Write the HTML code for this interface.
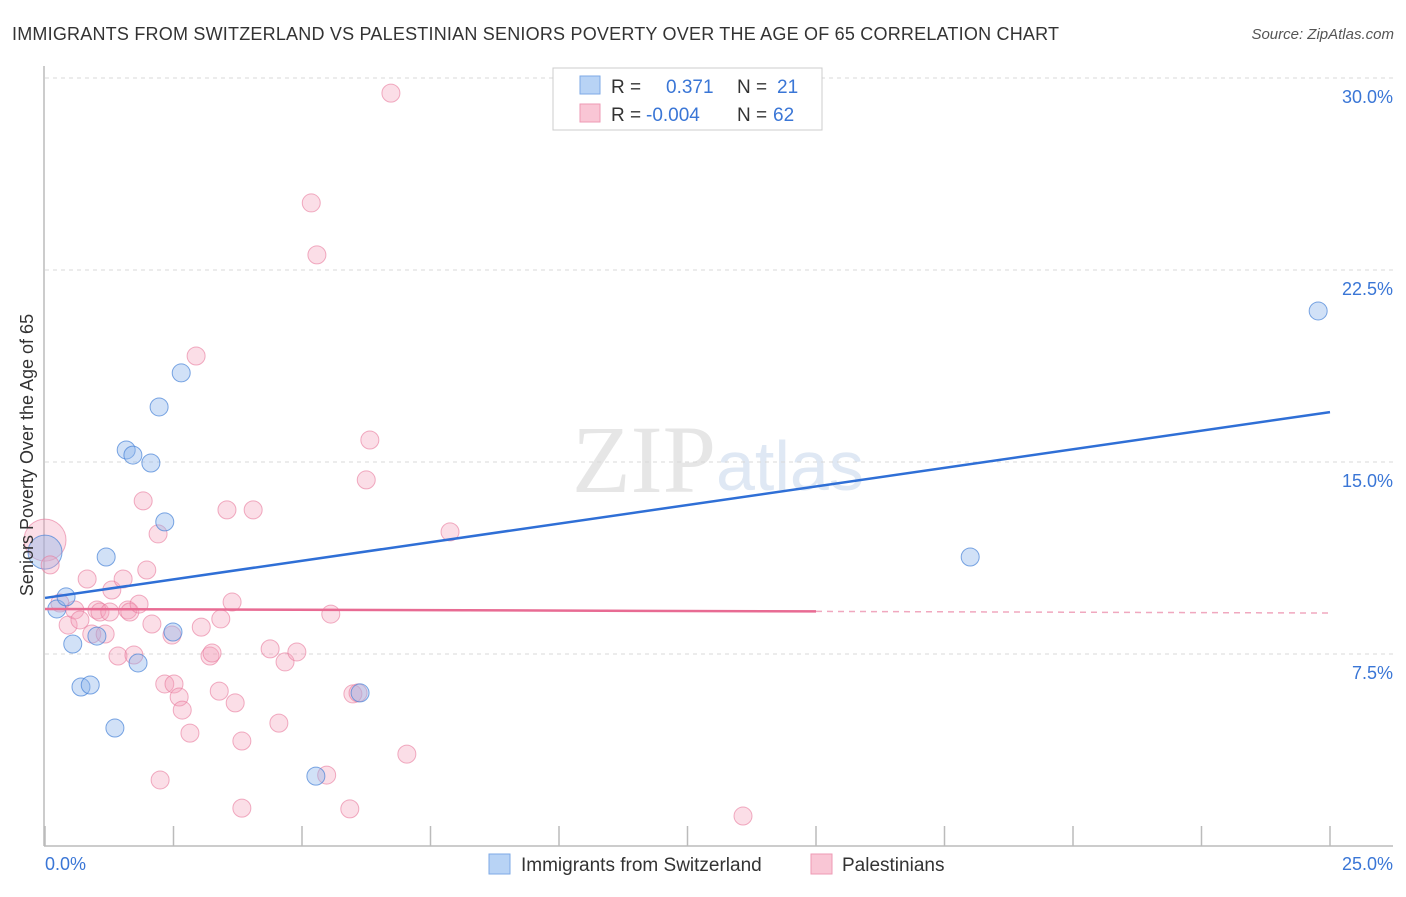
<!DOCTYPE html>
<html><head><meta charset="utf-8"><style>
body{margin:0;background:#fff;font-family:"Liberation Sans",sans-serif;}
</style></head><body>
<svg width="1406" height="892" xmlns="http://www.w3.org/2000/svg">
<text x="12" y="40" font-size="18" fill="#333" textLength="1047">IMMIGRANTS FROM SWITZERLAND VS PALESTINIAN SENIORS POVERTY OVER THE AGE OF 65 CORRELATION CHART</text>
<text x="1394" y="39" font-size="15" fill="#555" font-style="italic" text-anchor="end">Source: ZipAtlas.com</text>
<text x="716" y="492" font-size="96" fill="#e6e6e6" text-anchor="end" font-family="Liberation Serif">ZIP</text>
<text x="716" y="490" font-size="70" fill="#dfe8f4">atlas</text>
<g id="grid"></g>
<g id="axes"></g>
<g id="pts"></g>
<g id="trend"></g>
<text x="33" y="455" font-size="18" fill="#333" text-anchor="middle" transform="rotate(-90 33 455)">Seniors Poverty Over the Age of 65</text>
<g>
<rect x="553" y="68" width="269" height="62" fill="#fff" stroke="#ccc"/>
<rect x="580" y="76" width="20" height="18" fill="#b8d3f5" stroke="#7ea9e6"/>
<rect x="580" y="104" width="20" height="18" fill="#f9c6d5" stroke="#ee9ab4"/>
<text x="611" y="93" font-size="19" fill="#333">R = <tspan x="666" fill="#3a76d6">0.371</tspan><tspan x="737" fill="#333">N = </tspan><tspan x="777" fill="#3a76d6">21</tspan></text>
<text x="611" y="121" font-size="19" fill="#333">R = <tspan x="646" fill="#3a76d6">-0.004</tspan><tspan x="737" fill="#333">N = </tspan><tspan x="773" fill="#3a76d6">62</tspan></text>
</g>
<g>
<rect x="489" y="854" width="21" height="20" fill="#b8d3f5" stroke="#7ea9e6"/>
<text x="521" y="871" font-size="19" fill="#333">Immigrants from Switzerland</text>
<rect x="811" y="854" width="21" height="20" fill="#f9c6d5" stroke="#ee9ab4"/>
<text x="842" y="871" font-size="19" fill="#333">Palestinians</text>
</g>
</svg>
<script>
const yTicks=[7.5,15,22.5,30];
const yTickLabels=["7.5%","15.0%","22.5%","30.0%"];
const xLabels=["0.0%","25.0%"];
const blueX=[0.23,0.41,0.54,0.70,0.88,1.01,1.19,1.36,1.58,1.71,1.81,2.06,2.22,2.33,2.49,2.65,5.27,6.13,18.00,24.77];
const blueY=[9.26,9.73,7.89,6.21,6.29,8.20,11.29,4.61,15.47,15.27,7.15,14.96,17.15,12.66,8.36,18.48,2.73,5.98,11.29,20.90];
const pinkX=[0.10,0.29,0.45,0.58,0.68,0.82,0.91,1.01,1.07,1.17,1.26,1.30,1.42,1.52,1.61,1.65,1.73,1.83,1.91,1.98,2.08,2.20,2.24,2.33,2.47,2.51,2.61,2.67,2.82,2.94,3.04,3.21,3.25,3.39,3.42,3.54,3.64,3.70,3.83,3.83,4.05,4.38,4.55,4.67,4.90,5.18,5.29,5.48,5.56,5.93,5.99,6.09,6.25,6.32,6.73,7.04,7.88,13.58];
const pinkY=[10.98,9.49,8.63,9.22,8.83,10.43,8.28,9.22,9.14,8.28,9.14,10.0,7.42,10.43,9.22,9.14,7.46,9.45,13.48,10.78,8.67,12.19,2.58,6.33,8.24,6.33,5.82,5.31,4.41,19.14,8.55,7.42,7.54,6.05,8.87,13.13,9.53,5.59,4.10,1.48,13.13,7.70,4.80,7.19,7.58,25.12,23.09,2.77,9.06,1.45,5.94,5.98,14.30,15.86,29.41,3.59,12.27,1.17];
const bigPink=[0,11.95];
const bigBlue=[0,11.48];
const blueTrend=[9.69,16.95];
const pinkTrend=[9.26,9.10];
const NS="http://www.w3.org/2000/svg";
const xs=v=>45+v/25*1285;
const ys=v=>846-v/7.5*192;
function mk(t,a,p){const e=document.createElementNS(NS,t);for(const k in a)e.setAttribute(k,a[k]);document.getElementById(p).appendChild(e);return e;}
yTicks.forEach((t,i)=>{
 const l=mk('line',{x1:45,x2:1393,y1:ys(t),y2:ys(t),stroke:'#d8d8d8','stroke-dasharray':'4,4'},'grid');
 
 
 const tx=mk('text',{x:1393,y:ys(t)+25,'font-size':18,fill:'#3a76d6','text-anchor':'end'},'grid');
 tx.textContent=yTickLabels[i];
 
 
});
const ax=mk('line',{x1:44,x2:44,y1:66,y2:846,stroke:'#bbb','stroke-width':1.5},'axes');


const bx=mk('line',{x1:44,x2:1393,y1:846,y2:846,stroke:'#bbb','stroke-width':1.5},'axes');


for(let i=0;i<=10;i++){const v=i*2.5;const t=mk('line',{x1:xs(v),x2:xs(v),y1:826,y2:846,stroke:'#bbb','stroke-width':1.5},'axes');
 
 }
[0,1].forEach(i=>{const t=mk('text',{x:i?1393:45,y:870,'font-size':18,fill:'#3a76d6','text-anchor':i?'end':'start'},'axes');t.textContent=xLabels[i];
 
 });
const bp=mk('circle',{cx:xs(bigPink[0]),cy:ys(bigPink[1]),r:21,fill:'rgba(244,160,186,0.35)',stroke:'rgba(232,120,155,0.6)'},'pts');


const bb=mk('circle',{cx:xs(bigBlue[0]),cy:ys(bigBlue[1]),r:17,fill:'rgba(140,180,235,0.4)',stroke:'rgba(70,130,215,0.7)'},'pts');


pinkX.forEach((x,i)=>{const c=mk('circle',{cx:xs(x),cy:ys(pinkY[i]),r:9,fill:'rgba(244,160,186,0.35)',stroke:'rgba(232,120,155,0.6)'},'pts');
 
 });
blueX.forEach((x,i)=>{const c=mk('circle',{cx:xs(x),cy:ys(blueY[i]),r:9,fill:'rgba(140,180,235,0.4)',stroke:'rgba(70,130,215,0.7)'},'pts');
 
 });
const bt=mk('line',{x1:xs(0),y1:ys(blueTrend[0]),x2:xs(25),y2:ys(blueTrend[1]),stroke:'#2f6fd6','stroke-width':2.5},'trend');


const pm=pinkTrend[0]+(pinkTrend[1]-pinkTrend[0])*(15/25);
const pt=mk('line',{x1:xs(0),y1:ys(pinkTrend[0]),x2:xs(15),y2:ys(pm),stroke:'#e86b93','stroke-width':2.5},'trend');


const pd=mk('line',{x1:xs(15),y1:ys(pm),x2:xs(25),y2:ys(pinkTrend[1]),stroke:'#f0a8bf','stroke-width':1.5,'stroke-dasharray':'6,5'},'trend');


</script>
</body></html>
